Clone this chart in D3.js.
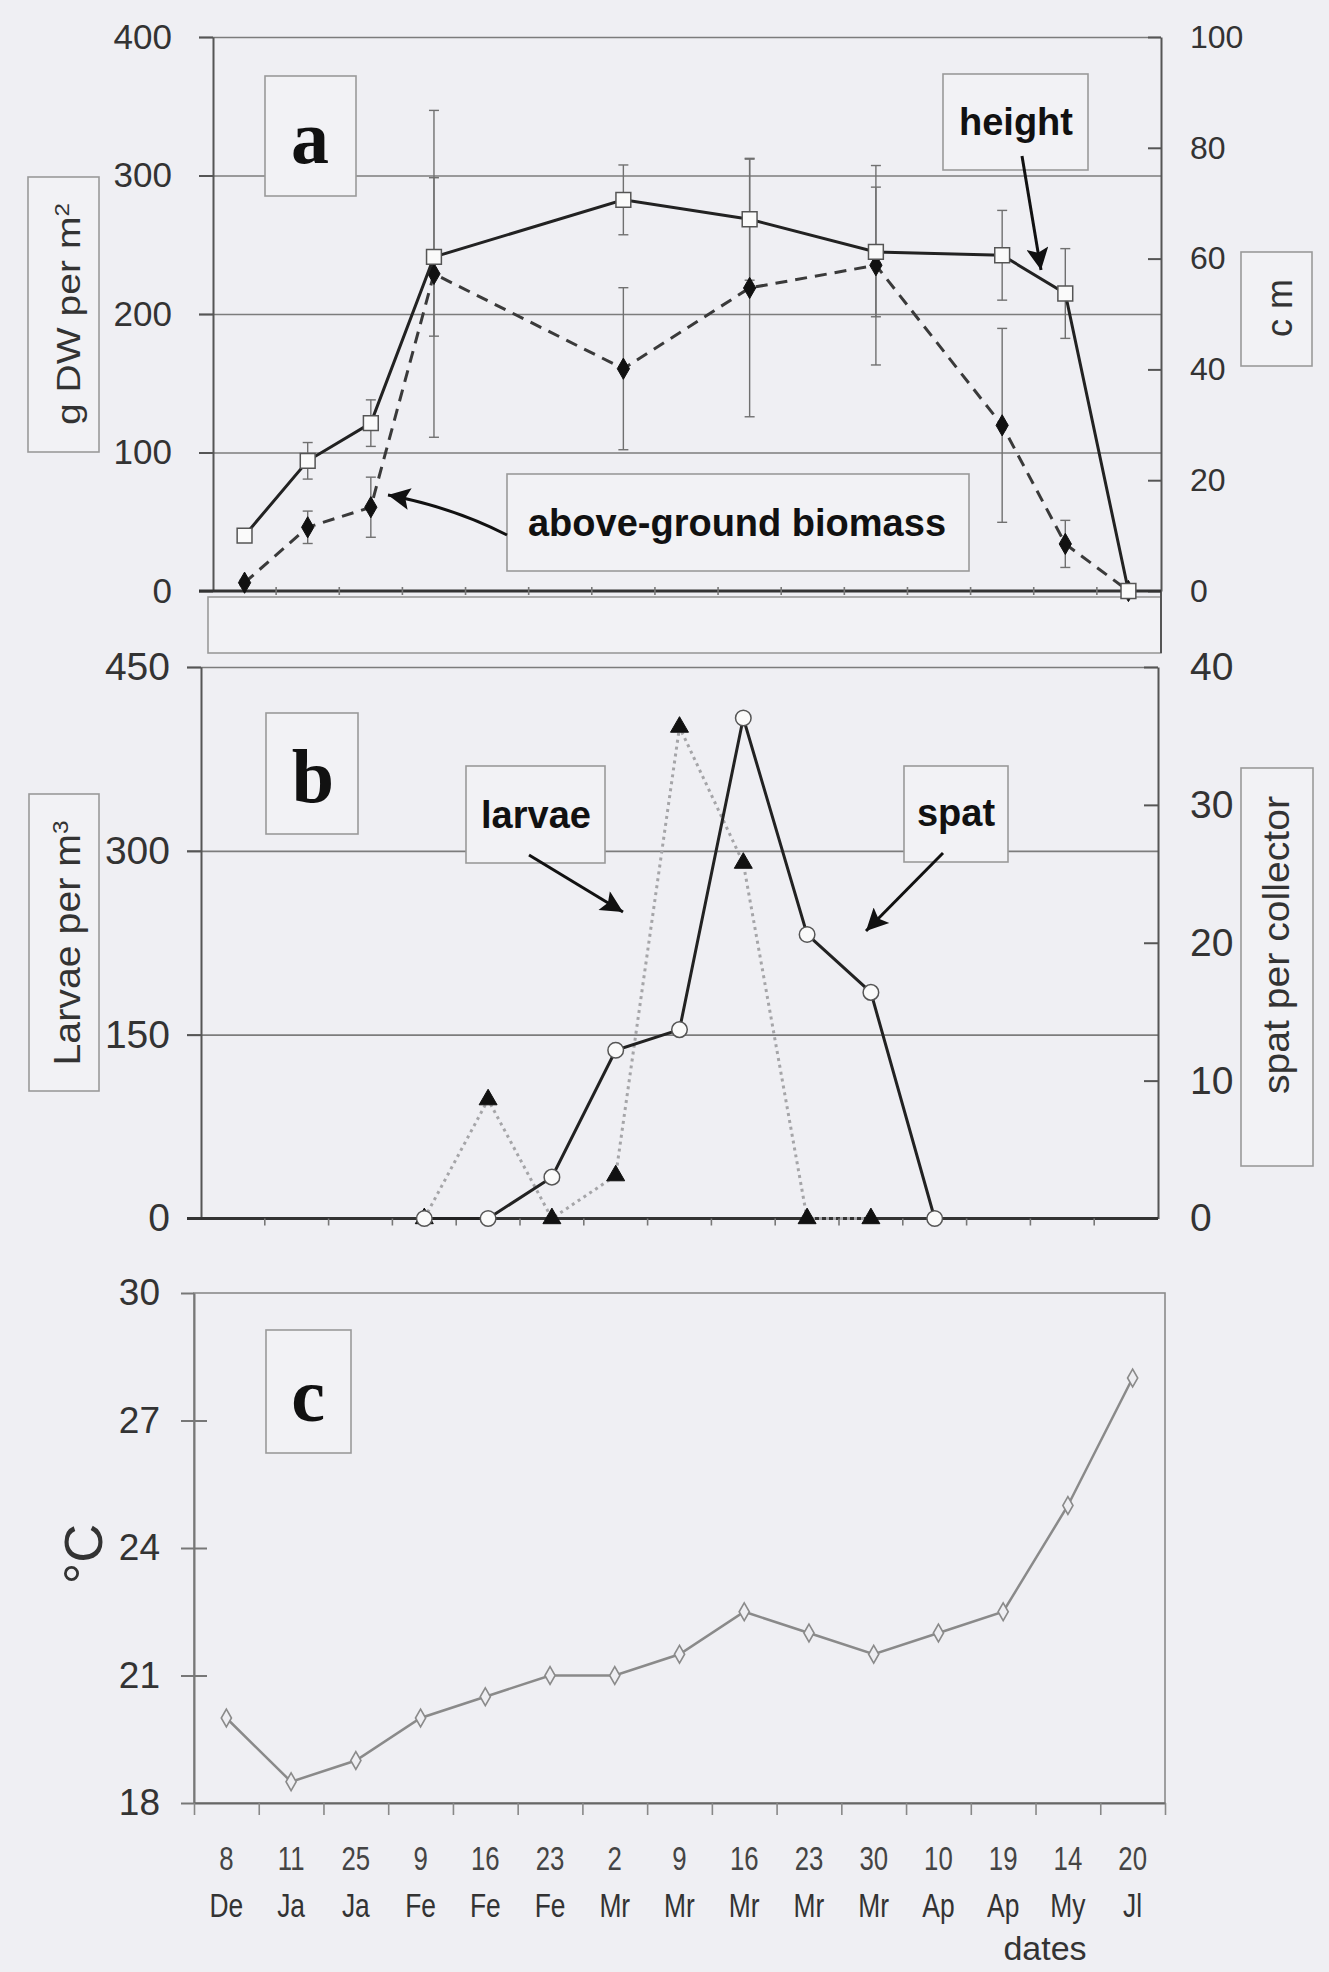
<!DOCTYPE html>
<html>
<head>
<meta charset="utf-8">
<script src="https://cdn.jsdelivr.net/npm/d3@7"></script>
<style>
  body { margin: 0; background: #efeff3; }
  svg { display: block; }
</style>
</head>
<body>
<svg id="chart"></svg>
<script>
// ---- data ----
const days   = ['8','11','25','9','16','23','2','9','16','23','30','10','19','14','20'];
const months = ['De','Ja','Ja','Fe','Fe','Fe','Mr','Mr','Mr','Mr','Mr','Ap','Ap','My','Jl'];

// panel a
const heightCm   = [10, 23.5, 30.3, 60.3, null, null, 70.6, null, 67.1, null, 61.2, null, 60.6, 53.7, 0];
const heightErr  = [0, 3.3, 4.2, 14.3, null, null, 6.3, null, 11, null, 11.7, null, 8.1, 8.1, 0];
const biomass    = [6, 46, 60.5, 229, null, null, 160.5, null, 218.8, null, 235.2, null, 119.6, 34, 0];
const biomassErr = [2, 11.7, 21.7, 118, null, null, 58.5, null, 93, null, 72, null, 70, 17, 0];

// panel b
const larvae = [null, null, null, 0, 97, 0, 35, 401, 290, 0, 0, null, null, null, null];
const spat   = [null, null, null, 0, 0, 3, 12.2, 13.7, 36.3, 20.6, 16.4, 0, null, null, null];

// panel c
const temp = [20, 18.5, 19, 20, 20.5, 21, 21, 21.5, 22.5, 22, 21.5, 22, 22.5, 25, 28];

const ticksA  = [0, 100, 200, 300, 400];
const ticksAr = [0, 20, 40, 60, 80, 100];
const ticksB  = [0, 150, 300, 450];
const ticksBr = [0, 10, 20, 30, 40];
const ticksC  = [18, 21, 24, 27, 30];

const SANS = '"Liberation Sans", Arial, sans-serif';
const SERIF = '"Liberation Serif", "Times New Roman", serif';

const svg = d3.select('#chart').attr('width', 1329).attr('height', 1972);
svg.append('rect').attr('width', 1329).attr('height', 1972).attr('fill', '#efeff3');

const defs = svg.append('defs');
defs.append('marker').attr('id', 'arr')
  .attr('viewBox', '0 0 10 10').attr('refX', 10).attr('refY', 5)
  .attr('markerUnits', 'userSpaceOnUse').attr('markerWidth', 30).attr('markerHeight', 22)
  .attr('orient', 'auto')
  .append('path').attr('d', 'M0,0L10,5L0,10L2,5z').attr('fill', '#111');

const idx = d3.range(15);
const cx = (x, i) => x(i) + x.bandwidth() / 2;

function styleAxis(g, fs) {
  g.select('.domain').attr('stroke', '#555').attr('stroke-width', 2);
  g.selectAll('.tick line').attr('stroke', '#555').attr('stroke-width', 2);
  g.selectAll('.tick text').attr('font-size', fs).attr('fill', '#333').attr('font-family', SANS);
}

function gridLines(g, y, vals, x0, x1) {
  g.append('g').attr('transform', `translate(${x0},0)`)
    .call(d3.axisLeft(y).tickValues(vals).tickSize(-(x1 - x0)).tickSizeOuter(0).tickFormat(''))
    .call(s => s.select('.domain').remove())
    .selectAll('line').attr('stroke', '#7c7c7c').attr('stroke-width', 1.6);
}

function box(g, x, y, w, h) {
  g.append('rect').attr('x', x).attr('y', y).attr('width', w).attr('height', h)
    .attr('fill', '#f2f2f5').attr('stroke', '#9a9a9a').attr('stroke-width', 1.6);
}

function rotLabel(g, x, y, parts, fs, len) {
  const t = g.append('text').attr('transform', `translate(${x},${y}) rotate(-90)`)
    .attr('text-anchor', 'middle').attr('font-family', SANS).attr('font-size', fs).attr('fill', '#333');
  if (len) t.attr('textLength', len).attr('lengthAdjust', 'spacingAndGlyphs');
  parts.forEach(p => {
    const s = t.append('tspan').text(p.t);
    if (p.sup) s.attr('font-size', fs * 0.62).attr('baseline-shift', 'super');
  });
}

function boundaryTicks(g, x, yPix, up, down, col) {
  const lin = d3.scaleLinear().domain([0, 15]).range(x.range());
  g.append('g').selectAll('line').data(d3.range(1, 15)).join('line')
    .attr('x1', d => lin(d)).attr('x2', d => lin(d))
    .attr('y1', yPix - up).attr('y2', yPix + down)
    .attr('stroke', col).attr('stroke-width', 1.6);
}

function errorBars(g, x, y, vals, errs, col) {
  const pts = idx.filter(i => vals[i] != null && errs[i]);
  const eb = g.append('g').attr('stroke', col).attr('stroke-width', 1.4);
  pts.forEach(i => {
    const xp = cx(x, i), lo = y(vals[i] - errs[i]), hi = y(vals[i] + errs[i]);
    eb.append('line').attr('x1', xp).attr('x2', xp).attr('y1', lo).attr('y2', hi);
    eb.append('line').attr('x1', xp - 5).attr('x2', xp + 5).attr('y1', lo).attr('y2', lo);
    eb.append('line').attr('x1', xp - 5).attr('x2', xp + 5).attr('y1', hi).attr('y2', hi);
  });
}

function series(g, x, y, vals, lineStyle, sym) {
  const pts = idx.filter(i => vals[i] != null);
  const line = d3.line().x(i => cx(x, i)).y(i => y(vals[i]));
  g.append('path').datum(pts).attr('d', line).attr('fill', 'none')
    .attr('stroke', lineStyle.stroke).attr('stroke-width', lineStyle.width)
    .attr('stroke-dasharray', lineStyle.dash || null);
  g.append('g').selectAll('path').data(pts).join('path')
    .attr('transform', i => `translate(${cx(x, i)},${y(vals[i])})`)
    .attr('d', d3.symbol().type(sym.type).size(sym.size))
    .attr('fill', sym.fill).attr('stroke', sym.stroke).attr('stroke-width', sym.sw);
}

// squeeze tick labels to look like a narrow face
function narrow(sel, k) {
  sel.each(function () {
    const len = this.getComputedTextLength();
    if (len > 0) d3.select(this).attr('textLength', len * k).attr('lengthAdjust', 'spacingAndGlyphs');
  });
}

// =================== panel a ===================
const xA = d3.scaleBand().domain(idx).range([213, 1160]);
const yA = d3.scaleLinear().domain([0, 400]).range([591, 37]);
const yAr = d3.scaleLinear().domain([0, 100]).range([591, 37]);
const gA = svg.append('g');

box(gA, 208, 597, 953, 56);
gridLines(gA, yA, [100, 200, 300, 400], 199, 1161);

gA.append('g').attr('transform', 'translate(213,0)')
  .call(d3.axisLeft(yA).tickValues(ticksA).tickSize(14).tickSizeOuter(0).tickPadding(27))
  .call(g => styleAxis(g, 35));
gA.append('g').attr('transform', 'translate(1161,0)')
  .call(d3.axisRight(yAr).tickValues(ticksAr).tickSizeInner(-13).tickSizeOuter(0).tickPadding(29))
  .call(g => styleAxis(g, 32));
gA.append('line').attr('x1', 1161).attr('x2', 1161).attr('y1', 591).attr('y2', 653)
  .attr('stroke', '#555').attr('stroke-width', 2);
gA.append('line').attr('x1', 199).attr('x2', 1161).attr('y1', yA(0)).attr('y2', yA(0))
  .attr('stroke', '#333').attr('stroke-width', 3);
boundaryTicks(gA, xA, yA(0), 4, 4, '#777');

errorBars(gA, xA, yA, biomass, biomassErr, '#707070');
errorBars(gA, xA, yAr, heightCm, heightErr, '#707070');
series(gA, xA, yA, biomass, { stroke: '#3a3a3a', width: 3, dash: '12,8' },
  { type: d3.symbolDiamond, size: 130, fill: '#111', stroke: '#111', sw: 1 });
series(gA, xA, yAr, heightCm, { stroke: '#222', width: 3 },
  { type: d3.symbolSquare, size: 220, fill: '#fafafa', stroke: '#555', sw: 1.5 });

box(gA, 265, 76, 91, 120);
gA.append('text').attr('x', 310).attr('y', 163).attr('text-anchor', 'middle')
  .attr('font-family', SERIF).attr('font-weight', 'bold').attr('font-size', 76).attr('fill', '#111').text('a');

box(gA, 28, 177, 71, 275);
rotLabel(gA, 80, 314, [{ t: 'g DW per m' }, { t: '2', sup: true }], 34, 222);

box(gA, 1241, 252, 71, 114);
rotLabel(gA, 1292, 308, [{ t: 'c m' }], 36);

box(gA, 943, 74, 145, 96);
gA.append('text').attr('x', 1016).attr('y', 135).attr('text-anchor', 'middle')
  .attr('font-family', SANS).attr('font-weight', 'bold').attr('font-size', 38).attr('fill', '#111').text('height');
gA.append('path').attr('d', 'M1022,156L1041,270').attr('stroke', '#111').attr('stroke-width', 3)
  .attr('fill', 'none').attr('marker-end', 'url(#arr)');

box(gA, 507, 474, 462, 97);
gA.append('text').attr('x', 737).attr('y', 536).attr('text-anchor', 'middle')
  .attr('font-family', SANS).attr('font-weight', 'bold').attr('font-size', 38).attr('fill', '#111').text('above-ground biomass');
gA.append('path').attr('d', 'M507,535Q452,507 388,495').attr('stroke', '#111').attr('stroke-width', 3)
  .attr('fill', 'none').attr('marker-end', 'url(#arr)');

// =================== panel b ===================
const xB = d3.scaleBand().domain(idx).range([201, 1158]);
const yB = d3.scaleLinear().domain([0, 450]).range([1218.5, 667]);
const yBr = d3.scaleLinear().domain([0, 40]).range([1218.5, 667]);
const gB = svg.append('g');

gridLines(gB, yB, [150, 300, 450], 187, 1158);
gB.append('g').attr('transform', 'translate(201,0)')
  .call(d3.axisLeft(yB).tickValues(ticksB).tickSize(14).tickSizeOuter(0).tickPadding(17))
  .call(g => styleAxis(g, 39));
gB.append('g').attr('transform', 'translate(1158,0)')
  .call(d3.axisRight(yBr).tickValues(ticksBr).tickSizeInner(-14).tickSizeOuter(0).tickPadding(32))
  .call(g => styleAxis(g, 39));
gB.append('line').attr('x1', 187).attr('x2', 1158).attr('y1', yB(0)).attr('y2', yB(0))
  .attr('stroke', '#333').attr('stroke-width', 3);
boundaryTicks(gB, xB, yB(0), 0, 7, '#777');

series(gB, xB, yB, larvae, { stroke: '#a5a5a8', width: 3, dash: '3,4' },
  { type: d3.symbolTriangle, size: 140, fill: '#111', stroke: '#111', sw: 1 });
series(gB, xB, yBr, spat, { stroke: '#222', width: 3 },
  { type: d3.symbolCircle, size: 190, fill: '#fafafa', stroke: '#555', sw: 1.5 });

box(gB, 266, 713, 92, 121);
gB.append('text').attr('x', 313).attr('y', 802).attr('text-anchor', 'middle')
  .attr('font-family', SERIF).attr('font-weight', 'bold').attr('font-size', 76).attr('fill', '#111').text('b');

box(gB, 29, 794, 70, 297);
rotLabel(gB, 80, 943, [{ t: 'Larvae per m' }, { t: '3', sup: true }], 36, 245);

box(gB, 1241, 768, 72, 398);
rotLabel(gB, 1289, 945, [{ t: 'spat per collector' }], 36, 298);

box(gB, 466, 766, 139, 97);
gB.append('text').attr('x', 536).attr('y', 828).attr('text-anchor', 'middle')
  .attr('font-family', SANS).attr('font-weight', 'bold').attr('font-size', 38).attr('fill', '#111').text('larvae');
gB.append('path').attr('d', 'M529,855L623,912').attr('stroke', '#111').attr('stroke-width', 3)
  .attr('fill', 'none').attr('marker-end', 'url(#arr)');

box(gB, 904, 766, 104, 96);
gB.append('text').attr('x', 956).attr('y', 826).attr('text-anchor', 'middle')
  .attr('font-family', SANS).attr('font-weight', 'bold').attr('font-size', 38).attr('fill', '#111').text('spat');
gB.append('path').attr('d', 'M943,853L866,931').attr('stroke', '#111').attr('stroke-width', 3)
  .attr('fill', 'none').attr('marker-end', 'url(#arr)');

// =================== panel c ===================
const xC = d3.scaleBand().domain(idx).range([194, 1165]);
const yC = d3.scaleLinear().domain([18, 30]).range([1803, 1293]);
const gC = svg.append('g');

gC.append('rect').attr('x', 194).attr('y', 1293).attr('width', 971).attr('height', 510)
  .attr('fill', 'none').attr('stroke', '#8a8a8a').attr('stroke-width', 1.6);
gC.append('g').attr('transform', 'translate(194,0)')
  .call(d3.axisLeft(yC).tickValues(ticksC).tickSize(13).tickSizeOuter(0).tickPadding(21))
  .call(g => styleAxis(g, 37))
  .call(g => g.selectAll('.domain, .tick line').attr('stroke', '#777'));
gC.append('g').attr('transform', 'translate(194,0)')
  .call(d3.axisLeft(yC).tickValues(ticksC.slice(1, 4)).tickSize(-13).tickSizeOuter(0).tickFormat(''))
  .call(g => g.select('.domain').remove())
  .selectAll('line').attr('stroke', '#777').attr('stroke-width', 2);

const linC = d3.scaleLinear().domain([0, 15]).range(xC.range());
gC.append('g').attr('transform', 'translate(0,1803)')
  .call(d3.axisBottom(linC).tickValues(d3.range(16)).tickSize(12).tickSizeOuter(0).tickFormat(''))
  .call(g => g.select('.domain').attr('stroke', '#666').attr('stroke-width', 2))
  .call(g => g.selectAll('.tick line').attr('stroke', '#888').attr('stroke-width', 1.6));

gC.append('g').attr('transform', 'translate(0,1803)')
  .call(d3.axisBottom(xC).tickSize(0).tickPadding(44).tickFormat(i => days[i]))
  .call(g => g.select('.domain').remove())
  .selectAll('text').attr('font-size', 33).attr('font-family', SANS).attr('fill', '#444')
  .call(s => narrow(s, 0.78));
gC.append('g').attr('transform', 'translate(0,1803)')
  .call(d3.axisBottom(xC).tickSize(0).tickPadding(91).tickFormat(i => months[i]))
  .call(g => g.select('.domain').remove())
  .selectAll('text').attr('font-size', 33).attr('font-family', SANS).attr('fill', '#333')
  .call(s => narrow(s, 0.8));

series(gC, xC, yC, temp, { stroke: '#8a8a8a', width: 2.5 },
  { type: d3.symbolDiamond, size: 90, fill: '#eeeef2', stroke: '#8a8a8a', sw: 1.6 });

box(gC, 266, 1330, 85, 123);
gC.append('text').attr('x', 308).attr('y', 1421).attr('text-anchor', 'middle')
  .attr('font-family', SERIF).attr('font-weight', 'bold').attr('font-size', 76).attr('fill', '#111').text('c');

gC.append('text').attr('transform', 'translate(102,1554) rotate(-90)').attr('text-anchor', 'middle')
  .attr('font-family', SANS).attr('font-size', 54).attr('fill', '#333').text('°C');

gC.append('text').attr('x', 1045).attr('y', 1960).attr('text-anchor', 'middle')
  .attr('font-family', SANS).attr('font-size', 34).attr('fill', '#333').text('dates');
</script>
</body>
</html>
